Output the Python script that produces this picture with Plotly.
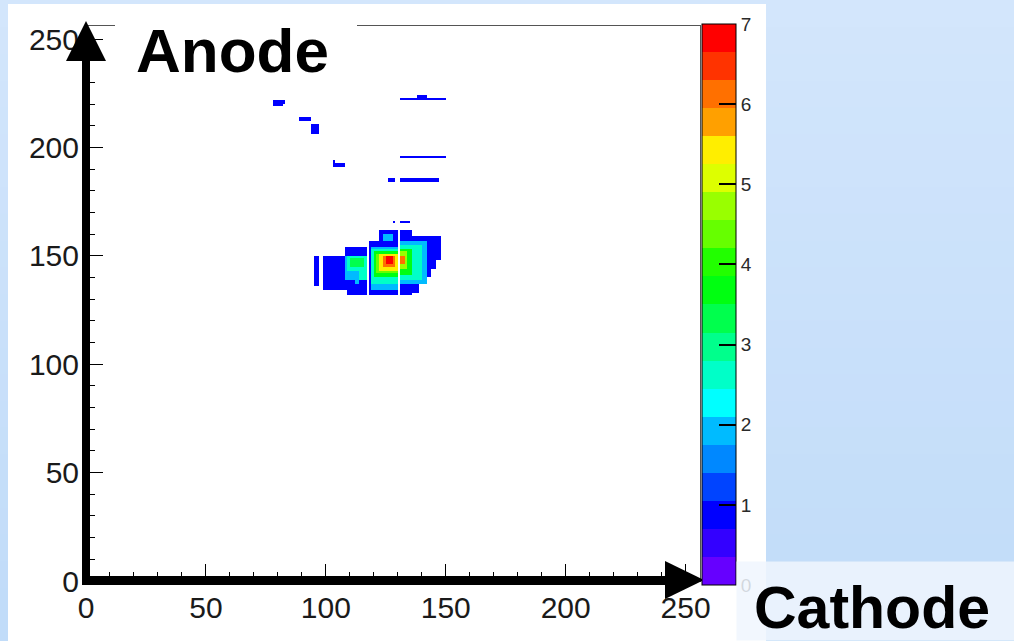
import numpy as np
import plotly.graph_objects as go

# ---------------- data ----------------
NBINS = 256
AXIS_TICKS = [0, 50, 100, 150, 200, 250]
CBAR_TICKS = [0, 1, 2, 3, 4, 5, 6, 7]
Z_MIN, Z_MAX = 0, 7

# 20-level palette, violet (low) to red (high)
PALETTE = ["#6600ff", "#3300ff", "#0000ff", "#0044ff", "#0088ff",
           "#00bbff", "#00ffff", "#00ffc8", "#00ff8c", "#00ff4d",
           "#00ff11", "#22ff00", "#66ff00", "#99ff00", "#ddff00",
           "#ffee00", "#ffa000", "#ff7000", "#ff3300", "#ff0000"]

# isolated hits: (x_first, x_last, y_first, y_last, counts), bins inclusive
SPARSE_HITS = [
    (78, 81, 219, 221, 1), (82, 82, 220, 221, 1),
    (89, 93, 212, 213, 1), (94, 96, 206, 210, 1),
    (103, 107, 191, 192, 1), (103, 103, 193, 193, 1),
    (131, 149, 222, 222, 1), (138, 141, 223, 223, 1),
    (131, 149, 195, 195, 1),
    (126, 128, 184, 185, 1), (131, 146, 184, 185, 1),
    (128, 128, 165, 165, 1), (131, 134, 165, 165, 1),
]

# main cluster, later entries overwrite earlier ones (0 = empty bin)
CLUSTER = [
    # left strips
    (95, 96, 136, 149, 1),
    (99, 107, 134, 149, 1),
    # block left of the first dead column
    (108, 116, 132, 153, 1),
    (108, 108, 132, 133, 0),
    (108, 108, 139, 149, 2),
    (109, 116, 143, 149, 2.6),
    (110, 115, 145, 148, 3.2),
    (109, 111, 139, 142, 2),
    (112, 113, 137, 142, 2),
    (114, 116, 139, 142, 2.6),
    # central block with the peak
    (118, 129, 132, 156, 1),
    (122, 129, 157, 161, 1),
    (124, 127, 157, 159, 2),
    (119, 129, 134, 153, 2),
    (119, 129, 137, 152, 2.6),
    (120, 129, 140, 151, 3.7),
    (121, 129, 142, 150, 4.5),
    (122, 129, 143, 150, 5.4),
    (124, 128, 145, 149, 6.2),
    (125, 127, 146, 149, 7),
    (119, 129, 132, 133, 1),
    # block right of the second dead column
    (131, 135, 132, 161, 1),
    (136, 147, 148, 158, 1),
    (136, 145, 144, 147, 1),
    (136, 143, 140, 143, 1),
    (136, 138, 133, 139, 1),
    (131, 141, 137, 156, 2),
    (131, 139, 139, 154, 2.6),
    (131, 135, 141, 152, 3.7),
    (131, 133, 144, 151, 4.8),
    (131, 132, 146, 149, 6.2),
]

# ---------------- histogram ----------------
counts = np.full((NBINS, NBINS), np.nan)
for x0, x1, y0, y1, v in SPARSE_HITS + CLUSTER:
    counts[y0:y1 + 1, x0:x1 + 1] = v if v > 0 else np.nan

centers = np.arange(NBINS) + 0.5

n = len(PALETTE)
colorscale = []
for i, c in enumerate(PALETTE):
    colorscale.append([i / n, c])
    colorscale.append([(i + 1) / n, c])

# ---------------- geometry helpers (pixel -> paper) ----------------
W, H = 1014, 641
L, R, T, B = 86, 700, 26, 581


def px(x):
    return (x - L) / (R - L)


def py(y):
    return (B - y) / (B - T)


fig = go.Figure()
fig.add_trace(go.Heatmap(
    x=centers, y=centers, z=counts,
    zmin=Z_MIN, zmax=Z_MAX, colorscale=colorscale, zsmooth=False,
    hoverinfo="skip",
    colorbar=dict(
        thickness=34, thicknessmode="pixels",
        len=561, lenmode="pixels",
        x=px(702), xanchor="left", y=py(304.5), yanchor="middle",
        xpad=0, ypad=0,
        outlinewidth=1, outlinecolor="black",
        tickvals=CBAR_TICKS, ticks="inside", ticklen=17, tickwidth=1.5,
        tickcolor="black",
        tickfont=dict(family="Liberation Sans", size=19, color="#2a2a2a"),
    ),
))

axis_common = dict(
    range=[0, NBINS], tickvals=AXIS_TICKS, ticks="inside", ticklen=17,
    tickwidth=1, tickcolor="black",
    minor=dict(dtick=10, tick0=0, ticks="inside", ticklen=9,
               tickcolor="black", tickwidth=1),
    showline=True, linecolor="#555", linewidth=1, mirror=True,
    showgrid=False, zeroline=False,
    tickfont=dict(family="Liberation Sans", size=30, color="#1a1a1a"),
)
fig.update_xaxes(**axis_common)
fig.update_yaxes(**axis_common)

shapes = []
# slide background: soft vertical gradient
top_c = np.array([211, 230, 252])
bot_c = np.array([193, 220, 249])
nb = 24
for k in range(nb):
    c = top_c + (bot_c - top_c) * k / (nb - 1)
    shapes.append(dict(type="rect", xref="paper", yref="paper", layer="below",
                       x0=px(0), x1=px(W), y0=py(k * H / nb), y1=py((k + 1) * H / nb + 1),
                       line=dict(width=0),
                       fillcolor="rgb(%d,%d,%d)" % tuple(c.astype(int))))
# white canvas of the plot
shapes.append(dict(type="rect", xref="paper", yref="paper", layer="below",
                   x0=px(8), x1=px(766), y0=py(4), y1=py(H),
                   line=dict(width=0), fillcolor="white"))
# backdrop behind the "Anode" label
shapes.append(dict(type="rect", xref="paper", yref="paper", layer="above",
                   x0=px(115), x1=px(357), y0=py(18), y1=py(88),
                   line=dict(width=0), fillcolor="white"))
# arrows along the axes
shapes.append(dict(type="line", xref="paper", yref="paper", layer="above",
                   x0=px(86), x1=px(86), y0=py(584), y1=py(50),
                   line=dict(color="black", width=8)))
shapes.append(dict(type="path", xref="paper", yref="paper", layer="above",
                   path="M %f %f L %f %f L %f %f Z" % (px(86), py(21), px(66), py(61), px(106), py(61)),
                   line=dict(width=0), fillcolor="black"))
shapes.append(dict(type="line", xref="paper", yref="paper", layer="above",
                   x0=px(82), x1=px(672), y0=py(580.5), y1=py(580.5),
                   line=dict(color="black", width=9)))
shapes.append(dict(type="path", xref="paper", yref="paper", layer="above",
                   path="M %f %f L %f %f L %f %f Z" % (px(704), py(580), px(665), py(561), px(665), py(599)),
                   line=dict(width=0), fillcolor="black"))

annotations = [
    dict(text="Anode", xref="paper", yref="paper", x=px(134), y=py(50),
         xanchor="left", yanchor="middle", showarrow=False,
         font=dict(family="Liberation Sans", size=62, color="black", weight="bold")),
    dict(text=" ", xref="paper", yref="paper", x=px(736), y=py(H),
         xanchor="left", yanchor="bottom", showarrow=False,
         width=W - 736, height=H - 563, borderpad=0,
         bgcolor="rgba(240,246,254,0.85)"),
    dict(text="Cathode", xref="paper", yref="paper", x=px(752), y=py(608),
         xanchor="left", yanchor="middle", showarrow=False,
         font=dict(family="Liberation Sans", size=59, color="black", weight="bold")),
]

fig.update_layout(
    width=W, height=H,
    margin=dict(l=L, r=W - R, t=T, b=H - B),
    paper_bgcolor="rgb(200,224,250)", plot_bgcolor="white",
    shapes=shapes, annotations=annotations, showlegend=False,
)

fig.write_html("out.html", config={"displayModeBar": False})
